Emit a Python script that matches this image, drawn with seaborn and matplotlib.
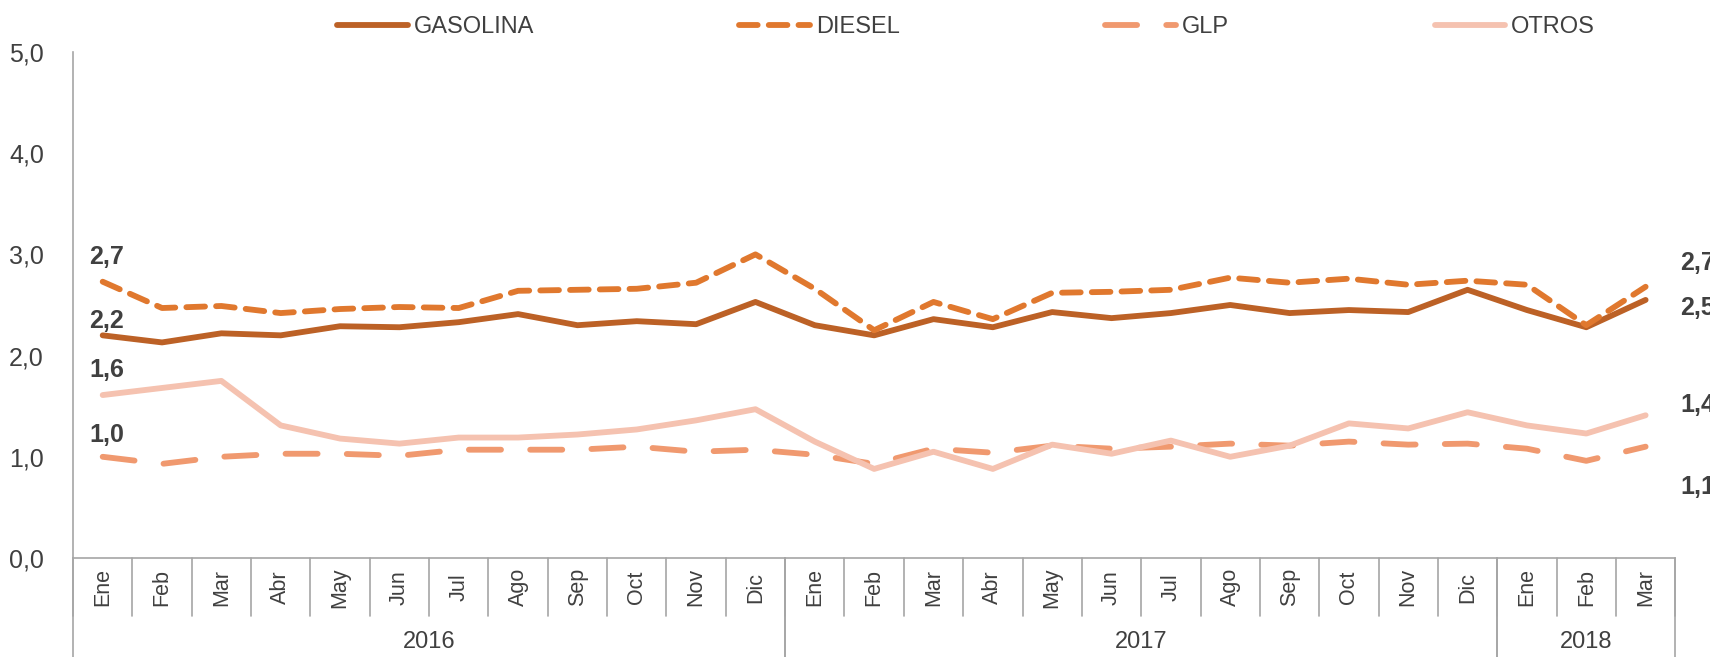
import numpy as np
import pandas as pd
import seaborn as sns
import matplotlib.pyplot as plt
import matplotlib.transforms as mtransforms

# datos
meses = ["Ene", "Feb", "Mar", "Abr", "May", "Jun", "Jul", "Ago", "Sep", "Oct", "Nov", "Dic",
         "Ene", "Feb", "Mar", "Abr", "May", "Jun", "Jul", "Ago", "Sep", "Oct", "Nov", "Dic",
         "Ene", "Feb", "Mar"]
anios = ["2016", "2017", "2018"]
meses_por_anio = [12, 12, 3]

gasolina = [2.20, 2.13, 2.22, 2.20, 2.29, 2.28, 2.33, 2.41, 2.30, 2.34, 2.31, 2.53,
            2.30, 2.20, 2.36, 2.28, 2.43, 2.37, 2.42, 2.50, 2.42, 2.45, 2.43, 2.65,
            2.45, 2.28, 2.55]
diesel = [2.73, 2.47, 2.49, 2.42, 2.46, 2.48, 2.47, 2.64, 2.65, 2.66, 2.72, 3.00,
          2.66, 2.25, 2.53, 2.36, 2.62, 2.63, 2.65, 2.77, 2.72, 2.76, 2.70, 2.74,
          2.70, 2.30, 2.68]
glp = [1.00, 0.93, 1.00, 1.03, 1.03, 1.01, 1.07, 1.07, 1.07, 1.10, 1.05, 1.07,
       1.02, 0.93, 1.08, 1.04, 1.11, 1.08, 1.10, 1.13, 1.11, 1.15, 1.12, 1.13,
       1.08, 0.96, 1.10]
otros = [1.61, 1.68, 1.75, 1.31, 1.18, 1.13, 1.19, 1.19, 1.22, 1.27, 1.36, 1.47,
         1.15, 0.88, 1.05, 0.88, 1.12, 1.03, 1.16, 1.00, 1.11, 1.33, 1.28, 1.44,
         1.31, 1.23, 1.41]

series = ["GASOLINA", "DIESEL", "GLP", "OTROS"]
valores = [gasolina, diesel, glp, otros]
colores = ["#BC6126", "#E0782E", "#F0996F", "#F5C2B0"]
estilos = ["-", (0, (3.2, 1.9)), (0, (5.5, 5.0)), "-"]

# etiquetas (mismo orden que series): texto y desplazamiento vertical en pixeles
etq_izq = [("2,2", 14), ("2,7", 25), ("1,0", 22), ("1,6", 25)]
etq_der = [("2,5", -8), ("2,7", 24), ("1,1", -40), ("1,4", 10)]

texto = "#404040"
gris = "#A6A6A6"

sns.set_style("white")
plt.rcParams['font.family'] = ["Liberation Sans", "DejaVu Sans"]

fig = plt.figure(figsize=(17.1, 6.57), dpi=100)
ax = fig.add_axes([0.0427, 0.1507, 0.937, 0.7702])

x = np.arange(len(meses))
for nombre, vals, col, ls in zip(series, valores, colores, estilos):
    sns.lineplot(x=x, y=vals, ax=ax, color=col, linewidth=4.2, linestyle=ls,
                 label=nombre, solid_capstyle="round", dash_capstyle="round")

# etiquetas de datos
for vals, (t, dy) in zip(valores, etq_izq):
    ax.annotate(t, xy=(0, vals[0]), xytext=(4, dy),
                textcoords="offset pixels", ha="center", va="center",
                fontsize=18, fontweight="bold", color=texto)
for vals, (t, dy) in zip(valores, etq_der):
    ax.annotate(t, xy=(len(meses) - 1, vals[-1]), xytext=(35, dy),
                textcoords="offset pixels", ha="left", va="center",
                fontsize=18, fontweight="bold", color=texto, annotation_clip=False)

ax.set_xlim(-0.5, len(meses) - 0.5)
ax.set_ylim(0, 5)
ax.set_yticks(np.arange(0, 6, 1))
ax.set_yticklabels([f"{v:.1f}".replace(".", ",") for v in np.arange(0, 6, 1)],
                   fontsize=18, color=texto)
ax.tick_params(axis="y", length=9, width=1, color=gris, pad=12)
ax.set_xticks([])

for s in ["top", "right"]:
    ax.spines[s].set_visible(False)
for s in ["left", "bottom"]:
    ax.spines[s].set_color(gris)
    ax.spines[s].set_linewidth(1.2)

# eje x de dos niveles
trans = mtransforms.blended_transform_factory(ax.transData, ax.transAxes)
for i, m in enumerate(meses):
    ax.text(i, -0.058, m, transform=trans, rotation=90, ha="center", va="center",
            fontsize=15.5, color=texto)
for i in range(len(meses) + 1):
    ax.plot([i - 0.5, i - 0.5], [0, -0.115], transform=trans, color=gris, lw=1.2, clip_on=False)

inicio = 0
for anio, n in zip(anios, meses_por_anio):
    ax.text(inicio + n / 2 - 0.5, -0.166, anio, transform=trans, ha="center", va="center",
            fontsize=17, color=texto)
    for b in [inicio - 0.5, inicio + n - 0.5]:
        ax.plot([b, b], [0, -0.2], transform=trans, color=gris, lw=1.2, clip_on=False)
    inicio += n

ax.legend(loc="center", bbox_to_anchor=(966 / 1710, 1 - 27 / 657),
          bbox_transform=fig.transFigure, ncol=4, frameon=False,
          fontsize=17, handlelength=3.0, handletextpad=0.25, columnspacing=8.7,
          labelcolor=texto)

plt.savefig("out.png", dpi=100)
plt.close()
